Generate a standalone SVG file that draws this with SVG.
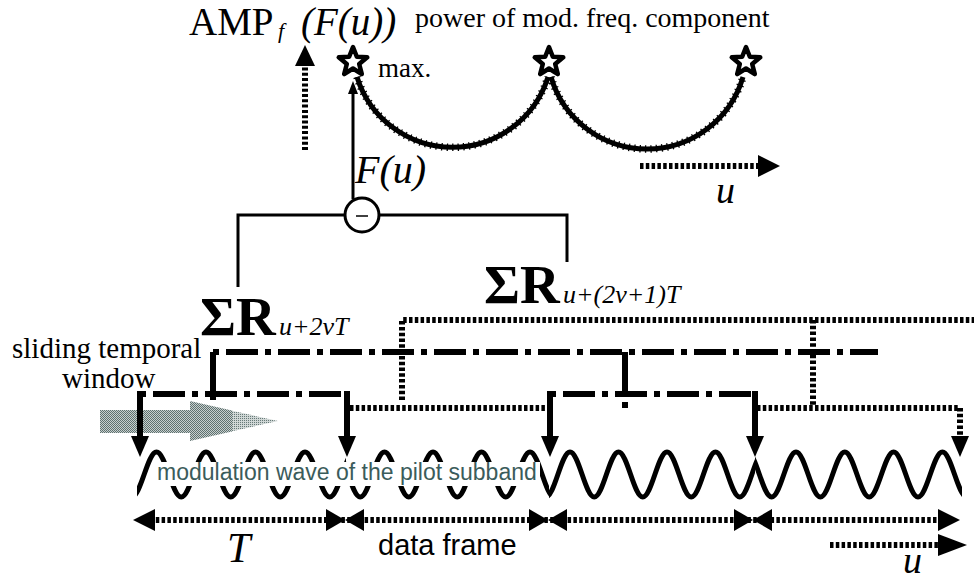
<svg xmlns="http://www.w3.org/2000/svg" width="974" height="581" viewBox="0 0 974 581">
<style>
.serif{font-family:"Liberation Serif","Times New Roman",serif;fill:#000}
.it{font-style:italic}
.bd{font-weight:bold}
.sans{font-family:"Liberation Sans",Arial,sans-serif}
.dd{stroke:#000;stroke-width:6;fill:none;stroke-dasharray:32 7 6 7;stroke-dashoffset:39}
.dt{stroke:#000;stroke-width:6;fill:none;stroke-dasharray:3.5 2.3}
.sl{stroke:#000;stroke-width:6;fill:none}
.thin{stroke:#000;stroke-width:3;fill:none}
.wave{stroke:#000;stroke-width:5;fill:none}
.rope{stroke:#000;stroke-width:7.5;fill:none;stroke-dasharray:1.3 4.2}
.head{fill:#000}
</style>
<defs>
<polygon id="star" points="0,-15 3.82,-5.26 14.27,-4.64 6.18,2.01 8.82,12.14 0,6.5 -8.82,12.14 -6.18,2.01 -14.27,-4.64 -3.82,-5.26" fill="#fff" stroke="#000" stroke-width="4.5" stroke-linejoin="round"/>
<polygon id="dn" points="-9,0 9,0 0,21" fill="#000"/>
<pattern id="chkD" width="2" height="2" patternUnits="userSpaceOnUse"><rect width="2" height="2" fill="#c8cfce"/><rect width="1" height="1" fill="#5e716f"/><rect x="1" y="1" width="1" height="1" fill="#5e716f"/></pattern>
<pattern id="chkL" width="2" height="2" patternUnits="userSpaceOnUse"><rect width="2" height="2" fill="#cfd6d5"/><rect width="1" height="1" fill="#667977"/></pattern>
<clipPath id="c1"><rect x="137" y="430" width="209" height="80"/></clipPath>
<clipPath id="c2"><rect x="346" y="430" width="203" height="80"/></clipPath>
<clipPath id="c3"><rect x="549" y="430" width="206" height="80"/></clipPath>
<clipPath id="c4"><rect x="755" y="430" width="207" height="80"/></clipPath>
</defs>

<g id="title">
<text class="serif" x="189" y="35" font-size="39">AMP</text>
<text class="serif it" x="278" y="38" font-size="22">f</text>
<text class="serif it" x="301" y="35" font-size="39">(F(u))</text>
<text class="serif" x="415" y="27" font-size="28">power of mod. freq. component</text>
</g>

<g id="amp-curve">
<path class="wave" d="M357,77 A100,100 0 0,0 548,77 M551,77 A100,100 0 0,0 743,77"/>
<path class="rope" d="M357,77 A100,100 0 0,0 548,77 M551,77 A100,100 0 0,0 743,77"/>
<use href="#star" x="353" y="62"/>
<use href="#star" x="549" y="62"/>
<use href="#star" x="746" y="62"/>
<text class="serif" x="378" y="77" font-size="27">max.</text>
</g>

<g id="axis-top">
<path class="dt" stroke-width="7" d="M305,150 V64" style="stroke-dasharray:3 2.3"/>
<polygon class="head" points="305,45 295,66 315,66"/>
<path class="dt" d="M640,166 H760"/>
<polygon class="head" points="758,155 780,166 758,177"/>
<text class="serif it" x="716" y="203" font-size="38">u</text>
</g>

<g id="subtract">
<path class="thin" d="M238,287 V215 H567 V262"/>
<circle cx="362" cy="215" r="17" fill="#fff" stroke="#000" stroke-width="3"/>
<path d="M356,216 H368" stroke="#000" stroke-width="1.5"/>
<text class="serif it" x="355" y="183" font-size="40">F(u)</text>
</g>

<g id="label-even">
<text class="serif bd" x="200" y="335" font-size="55">ΣR</text>
<text class="serif it" x="279" y="335" font-size="26">u+2vT</text>
</g>

<g id="label-odd">
<text class="serif bd" x="484" y="303" font-size="55">ΣR</text>
<text class="serif it" x="563" y="303" font-size="26">u+(2v+1)T</text>
</g>

<g id="window-label">
<text class="serif" x="12" y="358" font-size="29">sliding temporal</text>
<text class="serif" x="62" y="388" font-size="29">window</text>
</g>

<g id="slide-arrow">
<polygon fill="url(#chkL)" points="231,410.5 278,421 231,431.5"/>
<polygon fill="url(#chkD)" points="100,410 190,410 190,401 232,410.5 232,431.5 190,441 190,433 100,433"/>
</g>

<g id="wave">
<path class="wave" clip-path="url(#c1)" d="M107,452 C116.03,452 122.72,497 131.75,497 S147.47,452 156.5,452 S172.22,497 181.25,497 S196.97,452 206,452 S221.72,497 230.75,497 S246.47,452 255.5,452 S271.22,497 280.25,497 S295.97,452 305,452 S320.72,497 329.75,497 S345.47,452 354.5,452"/>
<path class="wave" clip-path="url(#c2)" d="M336,452 C344.85,452 351.4,497 360.25,497 S375.65,452 384.5,452 S399.9,497 408.75,497 S424.15,452 433,452 S448.4,497 457.25,497 S472.65,452 481.5,452 S496.9,497 505.75,497 S521.15,452 530,452 S545.4,497 554.25,497"/>
<path class="wave" clip-path="url(#c3)" d="M521.5,452 C530.35,452 536.9,497 545.75,497 S561.15,452 570,452 S585.4,497 594.25,497 S609.65,452 618.5,452 S633.9,497 642.75,497 S658.15,452 667,452 S682.4,497 691.25,497 S706.65,452 715.5,452 S730.9,497 739.75,497 S755.15,452 764,452"/>
<path class="wave" clip-path="url(#c4)" d="M747.2,452 C756.1,452 762.7,497 771.6,497 S787.1,452 796,452 S811.5,497 820.4,497 S835.9,452 844.8,452 S860.3,497 869.2,497 S884.7,452 893.6,452 S909.1,497 918,497 S933.5,452 942.4,452 S957.9,497 966.8,497"/>
<rect x="153" y="462" width="387" height="24" fill="#fff"/>
<text class="sans" x="157" y="480" font-size="23" fill="#3b5c5b">modulation wave of the pilot subband</text>
</g>

<g id="connectors">
<path class="dd" d="M213,352 H878"/>
<path class="sl" d="M213,352 V400"/>
<path class="sl" d="M625,352 V397 M625,402 V408"/>
<path class="dd" d="M140,394 H347"/>
<path class="dd" d="M550,394 H757"/>
<path class="sl" d="M140,391 V437 M347,391 V437 M550,391 V437 M755,391 V437"/>
<use href="#dn" x="140" y="436"/>
<use href="#dn" x="347" y="436"/>
<use href="#dn" x="550" y="436"/>
<use href="#dn" x="755" y="436"/>
<path class="dt" d="M402,400 V320 H974"/>
<path class="dt" d="M813,320 V407"/>
<path class="dt" d="M350,408 H548"/>
<path class="dt" d="M757,408 H960 V437"/>
<use href="#dn" x="960" y="436"/>
<path class="thin" stroke-width="2" d="M353,199 V92"/>
<polygon class="head" points="353,81 348,94 358,94"/>
</g>

<g id="frames">
<path class="dt" d="M150,520 H945"/>
<polygon class="head" points="133,520 155,509 155,531"/>
<polygon class="head" points="326,509 345,520 326,531"/>
<polygon class="head" points="364,509 345,520 364,531"/>
<polygon class="head" points="529,509 548,520 529,531"/>
<polygon class="head" points="567,509 548,520 567,531"/>
<polygon class="head" points="734,509 753,520 734,531"/>
<polygon class="head" points="772,509 753,520 772,531"/>
<polygon class="head" points="960,520 938,509 938,531"/>
<text class="serif it" x="227" y="562" font-size="42">T</text>
<text class="sans" x="378" y="555" font-size="29">data frame</text>
<path class="dt" d="M830,545 H940"/>
<polygon class="head" points="938,534 967,545 938,556"/>
<text class="serif it" x="903" y="573" font-size="38">u</text>
</g>
</svg>
